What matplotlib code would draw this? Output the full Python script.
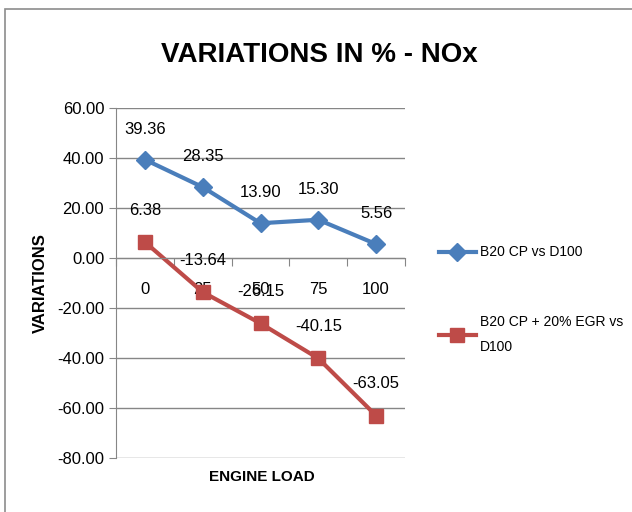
import matplotlib.pyplot as plt
from matplotlib.patches import Rectangle
from matplotlib.ticker import FixedLocator, NullFormatter
import numpy as np

plt.rcParams['font.family'] = ['Liberation Sans', 'DejaVu Sans']

loads = ['0', '25', '50', '75', '100']
b20_cp = [39.36, 28.35, 13.90, 15.30, 5.56]
b20_cp_egr = [6.38, -13.64, -26.15, -40.15, -63.05]

blue = '#4A7EBB'
red = '#BE4B48'
grey = '#868686'

fig = plt.figure(figsize=(6.32, 5.12), dpi=100)
ax = fig.add_axes([116 / 632, 1 - 458 / 512, (405 - 116) / 632, (458 - 108) / 512])

# outer chart border
fig.add_artist(Rectangle((5 / 632, -0.1), 1.2, (512 - 9) / 512 + 0.1,
                         transform=fig.transFigure, fill=False, edgecolor='#8c8c8c', lw=1.2))

x = np.arange(len(loads))
ax.plot(x, b20_cp, color=blue, lw=3, marker='D', ms=9, label='B20 CP vs D100')
ax.plot(x, b20_cp_egr, color=red, lw=3, marker='s', ms=10, label='B20 CP + 20% EGR vs\nD100')

for xi, v in zip(x, b20_cp):
    ax.annotate('%.2f' % v, (xi, v), xytext=(0, 22), textcoords='offset points',
                ha='center', va='center', fontsize=12)
for xi, v in zip(x, b20_cp_egr):
    ax.annotate('%.2f' % v, (xi, v), xytext=(0, 23), textcoords='offset points',
                ha='center', va='center', fontsize=12)

ax.set_xlim(-0.5, 4.5)
ax.set_ylim(-80, 60)
ax.set_yticks(np.arange(-80, 61, 20))
ax.set_yticklabels(['%.2f' % t for t in np.arange(-80, 61, 20)], fontsize=12)
ax.yaxis.grid(True, color=grey, lw=1)
ax.set_axisbelow(True)

ax.spines['bottom'].set_position(('data', 0))
for s in ['top', 'right']:
    ax.spines[s].set_visible(False)
ax.spines['bottom'].set_color(grey)
ax.spines['left'].set_color(grey)

ax.xaxis.set_major_locator(FixedLocator(np.arange(-0.5, 4.6, 1)))
ax.xaxis.set_major_formatter(NullFormatter())
ax.xaxis.set_minor_locator(FixedLocator(x))
ax.set_xticklabels(loads, minor=True, fontsize=12)
ax.tick_params(axis='x', which='major', length=6, color=grey, direction='out')
ax.tick_params(axis='x', which='minor', length=0, pad=17)
ax.tick_params(axis='y', length=5, color=grey)

fig.text(262 / 632, 1 - 477 / 512, 'ENGINE LOAD', ha='center', va='center',
         fontsize=11, fontweight='bold')
fig.text(40 / 632, 1 - 283 / 512, 'VARIATIONS', ha='center', va='center',
         rotation=90, fontsize=12, fontweight='bold')
fig.text(319 / 632, 1 - 55 / 512, 'VARIATIONS IN % - NOx', ha='center', va='center',
         fontsize=20, fontweight='bold')

leg = ax.legend(loc='upper left', bbox_to_anchor=(426 / 632, 1 - 233 / 512),
                bbox_transform=fig.transFigure, frameon=False, fontsize=10,
                handlelength=2.7, handletextpad=0.3, labelspacing=4.0)
for t in leg.get_texts():
    t.set_linespacing(2.0)

fig.savefig('out.png', dpi=100)
